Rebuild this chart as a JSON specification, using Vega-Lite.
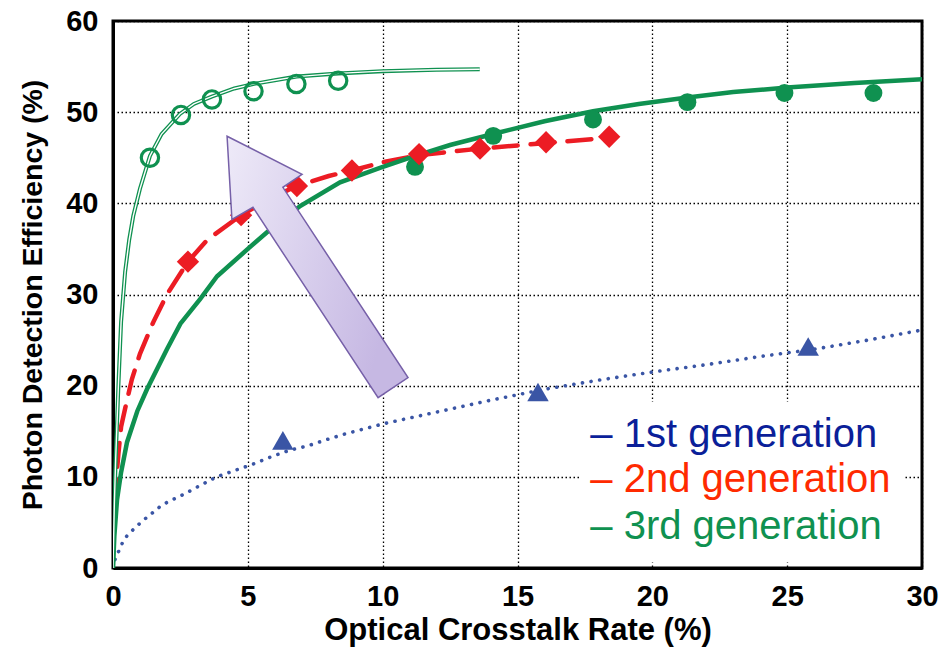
{
  "$schema": "https://vega.github.io/schema/vega-lite/v6.json",
  "width": 809,
  "height": 547,
  "autosize": {"type": "none"},
  "padding": {"left": 113, "top": 21, "right": 21, "bottom": 85},
  "background": "white",
  "config": {
    "view": {"stroke": "black", "strokeWidth": 3},
    "font": "Liberation Sans",
    "axis": {
      "domainColor": "black",
      "domainWidth": 3,
      "ticks": false,
      "grid": true,
      "gridColor": "black",
      "gridDash": [1.5, 2.5],
      "gridWidth": 1.3,
      "gridOpacity": 1,
      "labelFont": "Liberation Sans",
      "labelFontWeight": "bold",
      "labelFontSize": 29,
      "labelColor": "black",
      "titleFont": "Liberation Sans",
      "titleFontWeight": "bold",
      "titleColor": "black"
    }
  },
  "datasets": {
    "curves": [
      {"series": "g3open", "x": 0, "y": 0},
      {"series": "g3open", "x": 0.05, "y": 7},
      {"series": "g3open", "x": 0.1, "y": 12},
      {"series": "g3open", "x": 0.2, "y": 20},
      {"series": "g3open", "x": 0.3, "y": 27},
      {"series": "g3open", "x": 0.45, "y": 32.5},
      {"series": "g3open", "x": 0.6, "y": 36},
      {"series": "g3open", "x": 0.75, "y": 38.6},
      {"series": "g3open", "x": 1, "y": 41.6},
      {"series": "g3open", "x": 1.37, "y": 45.2},
      {"series": "g3open", "x": 1.8, "y": 47.6},
      {"series": "g3open", "x": 2.48, "y": 49.8},
      {"series": "g3open", "x": 3, "y": 50.9},
      {"series": "g3open", "x": 3.66, "y": 51.7},
      {"series": "g3open", "x": 4.5, "y": 52.6},
      {"series": "g3open", "x": 5.23, "y": 53.1},
      {"series": "g3open", "x": 6, "y": 53.5},
      {"series": "g3open", "x": 6.81, "y": 53.9},
      {"series": "g3open", "x": 8.35, "y": 54.25},
      {"series": "g3open", "x": 10, "y": 54.5},
      {"series": "g3open", "x": 12, "y": 54.65},
      {"series": "g3open", "x": 13.6, "y": 54.7},

      {"series": "g2", "x": 0, "y": 3},
      {"series": "g2", "x": 0.07, "y": 8},
      {"series": "g2", "x": 0.2, "y": 12.5},
      {"series": "g2", "x": 0.3, "y": 15.5},
      {"series": "g2", "x": 0.45, "y": 17.5},
      {"series": "g2", "x": 0.7, "y": 20.7},
      {"series": "g2", "x": 1, "y": 23.5},
      {"series": "g2", "x": 1.5, "y": 27},
      {"series": "g2", "x": 2, "y": 30},
      {"series": "g2", "x": 2.78, "y": 33.6},
      {"series": "g2", "x": 3.5, "y": 36},
      {"series": "g2", "x": 4.75, "y": 38.7},
      {"series": "g2", "x": 6, "y": 40.8},
      {"series": "g2", "x": 6.82, "y": 41.9},
      {"series": "g2", "x": 8, "y": 43},
      {"series": "g2", "x": 8.86, "y": 43.6},
      {"series": "g2", "x": 10, "y": 44.5},
      {"series": "g2", "x": 11.35, "y": 45.3},
      {"series": "g2", "x": 13.6, "y": 46},
      {"series": "g2", "x": 16, "y": 46.6},
      {"series": "g2", "x": 18.4, "y": 47.2},

      {"series": "g3", "x": 0, "y": 0},
      {"series": "g3", "x": 0.05, "y": 3.5},
      {"series": "g3", "x": 0.15, "y": 7.5},
      {"series": "g3", "x": 0.3, "y": 10.5},
      {"series": "g3", "x": 0.52, "y": 13.8},
      {"series": "g3", "x": 0.9, "y": 17.2},
      {"series": "g3", "x": 1.26, "y": 19.6},
      {"series": "g3", "x": 2, "y": 24},
      {"series": "g3", "x": 2.5, "y": 26.8},
      {"series": "g3", "x": 3.23, "y": 29.5},
      {"series": "g3", "x": 3.86, "y": 32},
      {"series": "g3", "x": 5, "y": 35},
      {"series": "g3", "x": 5.7, "y": 36.8},
      {"series": "g3", "x": 6.94, "y": 39.7},
      {"series": "g3", "x": 8.42, "y": 42.3},
      {"series": "g3", "x": 9.9, "y": 43.9},
      {"series": "g3", "x": 11.1, "y": 45.1},
      {"series": "g3", "x": 12.5, "y": 46.4},
      {"series": "g3", "x": 14.35, "y": 47.8},
      {"series": "g3", "x": 16, "y": 49},
      {"series": "g3", "x": 17.8, "y": 50.1},
      {"series": "g3", "x": 19.5, "y": 50.9},
      {"series": "g3", "x": 21.3, "y": 51.6},
      {"series": "g3", "x": 23, "y": 52.2},
      {"series": "g3", "x": 25, "y": 52.7},
      {"series": "g3", "x": 27.5, "y": 53.2},
      {"series": "g3", "x": 30, "y": 53.6},

      {"series": "g1", "x": 0, "y": 0},
      {"series": "g1", "x": 0.07, "y": 0.9},
      {"series": "g1", "x": 0.22, "y": 1.9},
      {"series": "g1", "x": 0.37, "y": 2.9},
      {"series": "g1", "x": 0.56, "y": 3.7},
      {"series": "g1", "x": 0.82, "y": 4.4},
      {"series": "g1", "x": 1.1, "y": 5.2},
      {"series": "g1", "x": 1.37, "y": 5.8},
      {"series": "g1", "x": 1.63, "y": 6.5},
      {"series": "g1", "x": 1.94, "y": 7.1},
      {"series": "g1", "x": 2.57, "y": 8.0},
      {"series": "g1", "x": 3.2, "y": 9.0},
      {"series": "g1", "x": 3.84, "y": 10.0},
      {"series": "g1", "x": 4.52, "y": 10.7},
      {"series": "g1", "x": 5.2, "y": 11.4},
      {"series": "g1", "x": 5.87, "y": 12.2},
      {"series": "g1", "x": 6.53, "y": 12.9},
      {"series": "g1", "x": 7.23, "y": 13.4},
      {"series": "g1", "x": 7.94, "y": 14.1},
      {"series": "g1", "x": 8.6, "y": 14.7},
      {"series": "g1", "x": 10, "y": 15.8},
      {"series": "g1", "x": 12, "y": 17.1},
      {"series": "g1", "x": 14, "y": 18.4},
      {"series": "g1", "x": 16, "y": 19.6},
      {"series": "g1", "x": 18, "y": 20.6},
      {"series": "g1", "x": 20, "y": 21.5},
      {"series": "g1", "x": 22, "y": 22.3},
      {"series": "g1", "x": 24, "y": 23.2},
      {"series": "g1", "x": 26, "y": 24.0},
      {"series": "g1", "x": 28, "y": 25.0},
      {"series": "g1", "x": 30, "y": 26.1}
    ],
    "points": [
      {"series": "g3open", "x": 1.37, "y": 45.0},
      {"series": "g3open", "x": 2.52, "y": 49.7},
      {"series": "g3open", "x": 3.67, "y": 51.4},
      {"series": "g3open", "x": 5.21, "y": 52.3},
      {"series": "g3open", "x": 6.8, "y": 53.1},
      {"series": "g3open", "x": 8.35, "y": 53.45},
      {"series": "g3", "x": 11.2, "y": 44.0},
      {"series": "g3", "x": 14.1, "y": 47.4},
      {"series": "g3", "x": 17.8, "y": 49.2},
      {"series": "g3", "x": 21.3, "y": 51.1},
      {"series": "g3", "x": 24.9, "y": 52.1},
      {"series": "g3", "x": 28.2, "y": 52.1},
      {"series": "g2", "x": 2.78, "y": 33.6},
      {"series": "g2", "x": 4.75, "y": 38.7},
      {"series": "g2", "x": 6.82, "y": 41.9},
      {"series": "g2", "x": 8.86, "y": 43.6},
      {"series": "g2", "x": 11.35, "y": 45.4},
      {"series": "g2", "x": 13.61, "y": 46.0},
      {"series": "g2", "x": 16.06, "y": 46.7},
      {"series": "g2", "x": 18.4, "y": 47.3},
      {"series": "g1", "x": 6.3, "y": 14.0},
      {"series": "g1", "x": 15.76, "y": 19.3},
      {"series": "g1", "x": 25.78, "y": 24.3}
    ],
    "arrow": [
      {"i": 0, "x": 4.23, "y": 47.36},
      {"i": 1, "x": 7.01, "y": 43.19},
      {"i": 2, "x": 6.3, "y": 41.76},
      {"i": 3, "x": 10.94, "y": 20.88},
      {"i": 4, "x": 9.83, "y": 18.68},
      {"i": 5, "x": 5.19, "y": 39.56},
      {"i": 6, "x": 4.41, "y": 38.24}
    ],
    "legend": [
      {"gen": "1st", "label": "– 1st generation", "x": 17.7, "y": 14.6},
      {"gen": "2nd", "label": "– 2nd generation", "x": 17.7, "y": 9.6},
      {"gen": "3rd", "label": "– 3rd generation", "x": 17.7, "y": 4.5}
    ],
    "box": [
      {"x": 17.3, "x2": 29.3, "y": 0.6, "y2": 18.2}
    ]
  },
  "encoding": {
    "x": {
      "field": "x", "type": "quantitative",
      "scale": {"domain": [0, 30], "nice": false, "zero": false},
      "axis": {"values": [0, 5, 10, 15, 20, 25, 30], "labelPadding": 14, "title": "Optical Crosstalk Rate (%)", "titleFontSize": 31, "titlePadding": 4, "labelFlush": false}
    },
    "y": {
      "field": "y", "type": "quantitative",
      "scale": {"domain": [0, 60], "nice": false},
      "axis": {"values": [0, 10, 20, 30, 40, 50, 60], "labelPadding": 15, "title": "Photon Detection Efficiency (%)", "titleFontSize": 28.5, "titlePadding": 18, "labelFlush": false}
    }
  },
  "layer": [
    {
      "data": {"name": "box"},
      "mark": {"type": "rect", "color": "white"},
      "encoding": {"x2": {"field": "x2"}, "y2": {"field": "y2"}}
    },
    {
      "data": {"name": "curves"},
      "transform": [{"filter": "datum.series === 'g1'"}],
      "mark": {"type": "line", "color": "#3a55a5", "strokeWidth": 3.6, "strokeCap": "round", "strokeDash": [0.1, 8.6], "clip": true},
      "encoding": {"order": {"field": "x"}}
    },
    {
      "data": {"name": "curves"},
      "transform": [{"filter": "datum.series === 'g2'"}],
      "mark": {"type": "line", "color": "#ec1c24", "strokeWidth": 4.5, "strokeCap": "round", "strokeDash": [24, 13], "clip": true},
      "encoding": {"order": {"field": "x"}}
    },
    {
      "data": {"name": "curves"},
      "transform": [{"filter": "datum.series === 'g3'"}],
      "mark": {"type": "line", "color": "#0f9150", "strokeWidth": 4.5, "clip": true},
      "encoding": {"order": {"field": "x"}}
    },
    {
      "data": {"name": "curves"},
      "transform": [{"filter": "datum.series === 'g3open'"}],
      "mark": {"type": "line", "color": "#0f9150", "strokeWidth": 4, "clip": true},
      "encoding": {"order": {"field": "x"}}
    },
    {
      "data": {"name": "curves"},
      "transform": [{"filter": "datum.series === 'g3open'"}],
      "mark": {"type": "line", "color": "white", "strokeWidth": 1.4, "clip": true},
      "encoding": {"order": {"field": "x"}}
    },
    {
      "data": {"name": "points"},
      "transform": [{"filter": "datum.series === 'g3open'"}],
      "mark": {"type": "point", "shape": "circle", "size": 300, "filled": false, "color": "#0f9150", "strokeWidth": 3.2, "opacity": 1}
    },
    {
      "data": {"name": "points"},
      "transform": [{"filter": "datum.series === 'g3'"}],
      "mark": {"type": "point", "shape": "circle", "size": 320, "filled": true, "color": "#0f9150", "opacity": 1}
    },
    {
      "data": {"name": "points"},
      "transform": [{"filter": "datum.series === 'g2'"}],
      "mark": {"type": "point", "shape": "diamond", "size": 500, "filled": true, "color": "#ec1c24", "opacity": 1}
    },
    {
      "data": {"name": "points"},
      "transform": [{"filter": "datum.series === 'g1'"}],
      "mark": {"type": "point", "shape": "triangle-up", "size": 460, "filled": true, "color": "#3a55a5", "opacity": 1}
    },
    {
      "data": {"name": "arrow"},
      "mark": {
        "type": "line",
        "interpolate": "linear-closed",
        "fill": {
          "gradient": "linear", "x1": 0, "y1": 0, "x2": 1, "y2": 0.4,
          "stops": [{"offset": 0, "color": "#eeeaf8"}, {"offset": 1, "color": "#c6b8e3"}]
        },
        "stroke": "#7660a8",
        "strokeWidth": 1.5,
        "strokeJoin": "miter"
      },
      "encoding": {"order": {"field": "i"}}
    },
    {
      "data": {"name": "legend"},
      "mark": {"type": "text", "align": "left", "baseline": "middle", "fontSize": 40, "font": "Liberation Sans"},
      "encoding": {
        "text": {"field": "label"},
        "color": {
          "field": "gen", "type": "nominal",
          "scale": {"domain": ["1st", "2nd", "3rd"], "range": ["#0b1f99", "#ff2a00", "#0f9150"]},
          "legend": null
        }
      }
    }
  ]
}
